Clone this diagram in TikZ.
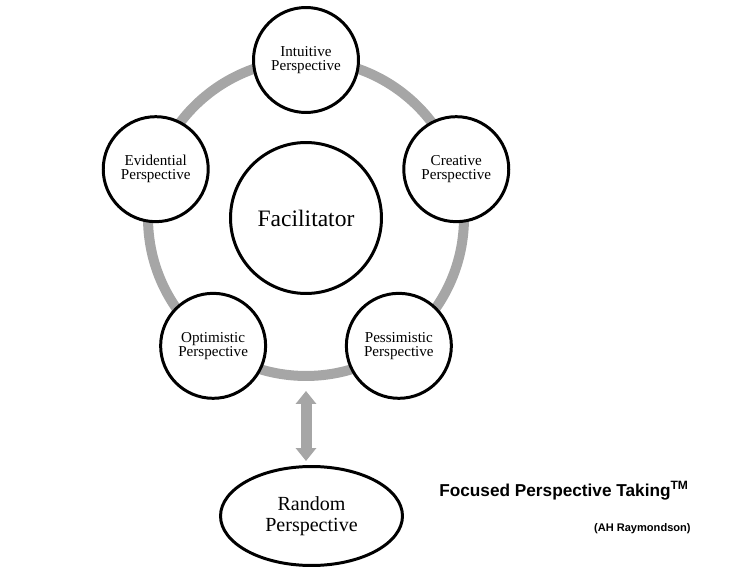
\documentclass[tikz,border=0pt]{standalone}
\usepackage{fontspec}
\setmainfont{Liberation Serif}
\newfontfamily\headfont{Liberation Sans}
\usetikzlibrary{shapes.geometric,arrows.meta}
\definecolor{ringgray}{RGB}{166,166,166}

\begin{document}
\begin{tikzpicture}[x=0.02cm, y=0.02cm]
	\tikzstyle{persp} = [circle, draw, fill=white, line width=1.7pt, minimum size=2.1cm, inner sep=0pt, align=center, font=\fontsize{8.6}{8}\selectfont]
	\tikzstyle{hub} = [circle, draw, fill=white, line width=1.7pt, minimum size=3.02cm, inner sep=0pt, font=\fontsize{13.4}{15}\selectfont]
	\tikzstyle{rnd} = [ellipse, draw, fill=white, line width=1.7pt, minimum width=3.64cm, minimum height=1.98cm, inner sep=0pt, align=center, font=\fontsize{11.4}{12}\selectfont]
	\tikzstyle{ring_line} = [circle, draw=ringgray, line width=0.2cm, minimum size=6.32cm, inner sep=0pt]
	\tikzstyle{biedge} = [draw=ringgray, line width=0.22cm, {Triangle[width=0.4cm 0, length=0.26cm 0]}-{Triangle[width=0.4cm 0, length=0.26cm 0]}]
	\tikzstyle{caption} = [inner sep=0pt, font=\headfont\bfseries]
	\def\radius{158}

	\useasboundingbox (0,0) rectangle (745,586);

	% ring and hub
	\node[ring_line] (ring) at (306,368) {};
	\node[hub] (facilitator) at (306,368) {Facilitator};

	% the five perspectives
	\begin{scope}[shift={(306,368)}]
	\foreach \name/\ang/\txt in {intuitive/90/Intuitive, creative/18/Creative, pessimistic/-54/Pessimistic, optimistic/-126/Optimistic, evidential/162/Evidential}
		\node[persp] (\name) at (\ang:\radius) {\txt\\Perspective};
	\end{scope}

	\node[rnd] (random) at (311.5,70) {Random\\Perspective};
	\draw[biedge, shorten <=0.2cm, shorten >=0.08cm] (ring.south) -- (ring.south |- random.north);

	% caption
	\node[caption, anchor=base west] (title) at (439,90) {\fontsize{9.8}{11}\selectfont Focused Perspective Taking\textsuperscript{TM}};
	\node[caption, anchor=base east] (author) at (691,55) {\fontsize{6.3}{7}\selectfont (AH Raymondson)};
\end{tikzpicture}
\end{document}
